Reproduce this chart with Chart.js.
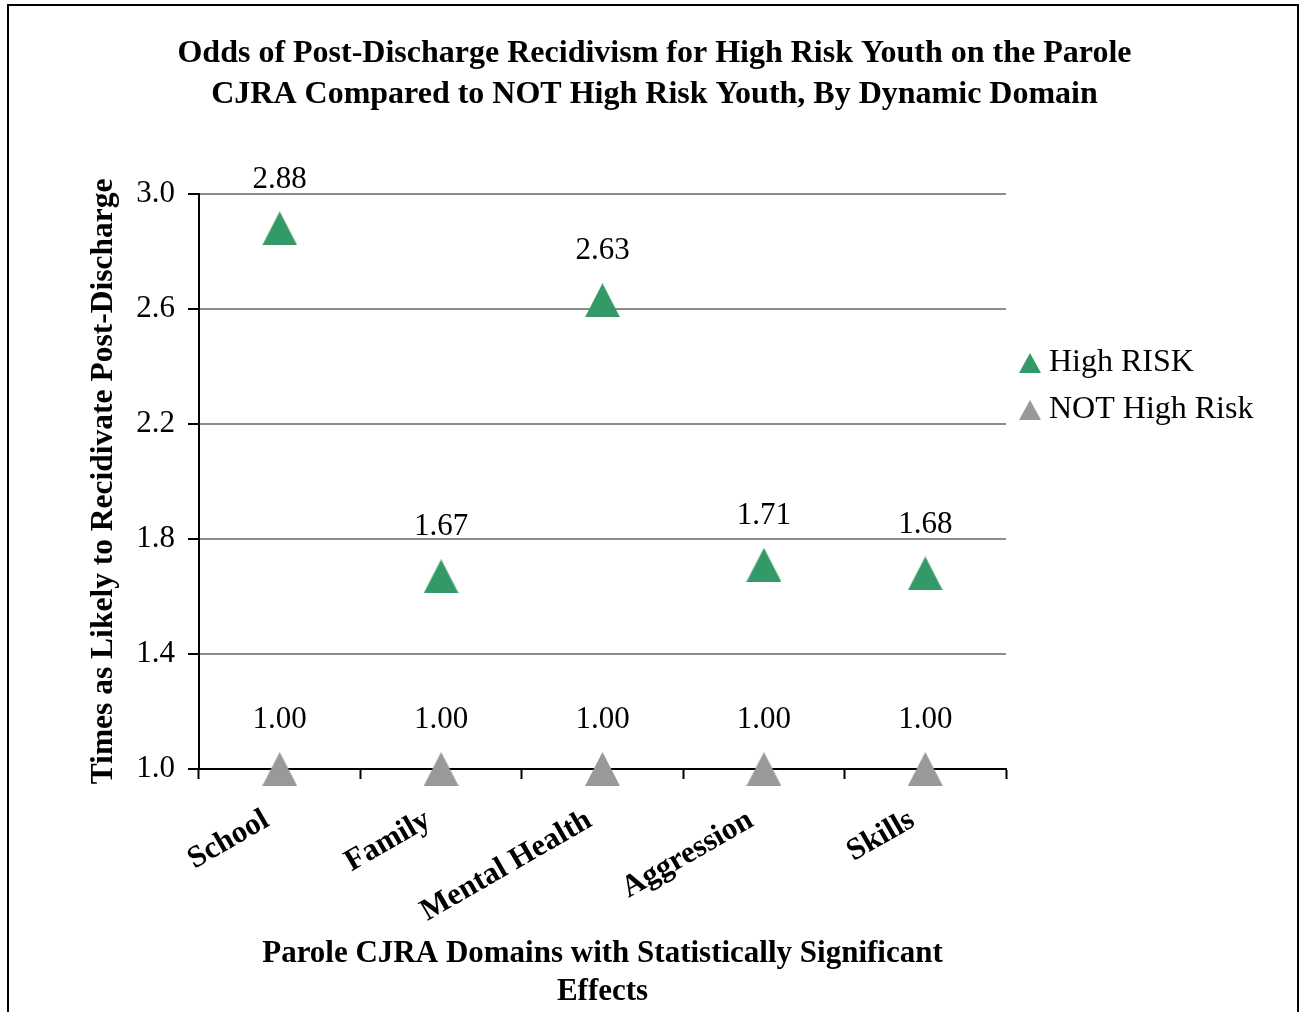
<!DOCTYPE html>
<html><head><meta charset="utf-8">
<script src="https://cdn.jsdelivr.net/npm/chart.js@4/dist/chart.umd.min.js"></script>
<style>html,body{margin:0;padding:0;background:#fff;} canvas{display:block;}</style>
</head><body>
<canvas id="c" width="1299" height="1012"></canvas>
<script>
const categories = ['School', 'Family', 'Mental Health', 'Aggression', 'Skills'];
const highRisk = [2.88, 1.67, 2.63, 1.71, 1.68];
const notHighRisk = [1.00, 1.00, 1.00, 1.00, 1.00];
const seriesNames = ['High RISK', 'NOT High Risk'];
const yMin = 1.0, yMax = 3.0, yStep = 0.4;
const titleLines = ['Odds of Post-Discharge Recidivism for High Risk Youth on the Parole',
                    'CJRA Compared to NOT High Risk Youth, By Dynamic Domain'];
const xTitleLines = ['Parole CJRA Domains with Statistically Significant', 'Effects'];
const yTitle = 'Times as Likely to Recidivate Post-Discharge';

const FONT = "'Liberation Serif', 'Times New Roman', serif";
const GREEN = '#339966';
const GRAY = '#999999';

function triangleImage(w, h, color, leftPad) {
  const c = document.createElement('canvas');
  c.width = w + leftPad; c.height = h;
  const g = c.getContext('2d');
  g.fillStyle = color;
  g.beginPath();
  g.moveTo(leftPad + w / 2, 0);
  g.lineTo(leftPad + w, h);
  g.lineTo(leftPad, h);
  g.closePath();
  g.fill();
  return c;
}
const markGreen = triangleImage(35, 34, GREEN, 0);
const markGray = triangleImage(35, 34, GRAY, 0);
const legendGreen = triangleImage(22, 20, GREEN, 6);
const legendGray = triangleImage(22, 20, GRAY, 6);

const framePlugin = {
  id: 'frame',
  beforeDraw(chart) {
    const ctx = chart.ctx;
    ctx.save();
    ctx.fillStyle = '#fff';
    ctx.fillRect(0, 0, chart.width, chart.height);
    ctx.strokeStyle = '#000';
    ctx.lineWidth = 2;
    ctx.strokeRect(8, 5, 1290, 1100);
    ctx.restore();
  }
};

const valueLabels = {
  id: 'valueLabels',
  afterDatasetsDraw(chart) {
    const ctx = chart.ctx;
    ctx.save();
    ctx.font = '31px ' + FONT;
    ctx.fillStyle = '#000';
    ctx.textAlign = 'center';
    ctx.textBaseline = 'middle';
    chart.data.datasets.forEach((ds, i) => {
      const meta = chart.getDatasetMeta(i);
      meta.data.forEach((pt, j) => {
        ctx.fillText(Number(ds.data[j]).toFixed(2), pt.x, pt.y - 49);
      });
    });
    ctx.restore();
  }
};

const legendWidth = {
  id: 'legendWidth',
  afterInit(chart) {
    const lg = chart.legend;
    if (lg && !lg._wrapped) {
      const orig = lg.fit.bind(lg);
      lg.fit = function () { orig(); this.width = 293; };
      lg._wrapped = true;
    }
  }
};

const legendMarks = [legendGreen, legendGray];

new Chart(document.getElementById('c'), {
  type: 'line',
  data: {
    labels: categories,
    datasets: [
      { label: seriesNames[0], data: highRisk, showLine: false, pointStyle: markGreen,
        pointRadius: 18, pointHoverRadius: 18, backgroundColor: GREEN, borderColor: GREEN,
        pointBorderWidth: 0, clip: false },
      { label: seriesNames[1], data: notHighRisk, showLine: false, pointStyle: markGray,
        pointRadius: 18, pointHoverRadius: 18, backgroundColor: GRAY, borderColor: GRAY,
        pointBorderWidth: 0, clip: false }
    ]
  },
  options: {
    responsive: false,
    animation: false,
    devicePixelRatio: 1,
    layout: { padding: { left: 10, top: 0, right: 0, bottom: 0 } },
    plugins: {
      tooltip: { enabled: false },
      title: {
        display: true, text: titleLines, color: '#000',
        font: { family: FONT, size: 32, weight: 'bold', lineHeight: 1.28 },
        padding: { top: 33, bottom: 79 }
      },
      legend: {
        position: 'right', align: 'start',
        title: { display: true, text: ' ', font: { size: 10, lineHeight: 1 }, padding: { top: 322, bottom: 0 } },
        labels: {
          usePointStyle: true, boxWidth: 12, boxHeight: 20, padding: 15, color: '#000',
          font: { family: FONT, size: 32 },
          generateLabels(chart) {
            const items = Chart.defaults.plugins.legend.labels.generateLabels(chart);
            items.forEach((it, i) => { it.pointStyle = legendMarks[i]; });
            return items;
          }
        }
      }
    },
    scales: {
      x: {
        type: 'category',
        offset: true,
        afterFit(s) { s.height = 243; },
        grid: { display: true, drawOnChartArea: false, drawTicks: true, tickLength: 10,
                tickColor: '#000', tickWidth: 2, offset: true, z: -1 },
        border: { display: true, color: '#000', width: 2 },
        ticks: { color: '#000', font: { family: FONT, size: 31, weight: 'bold' },
                 minRotation: 30, maxRotation: 30, padding: 23, labelOffset: -13 },
        title: { display: true, text: xTitleLines, color: '#000',
                 font: { family: FONT, size: 31, weight: 'bold', lineHeight: 1.226 },
                 padding: { top: 0, bottom: 1 } }
      },
      y: {
        min: yMin, max: yMax,
        afterFit(s) { s.width = 189; },
        grid: { color: '#8c8c8c', lineWidth: 2, drawTicks: true, tickLength: 11,
                tickColor: '#000', tickWidth: 2, z: -1 },
        border: { display: true, color: '#000', width: 2 },
        ticks: { stepSize: yStep, color: '#000', padding: 13,
                 font: { family: FONT, size: 31 },
                 callback: (v) => Number(v).toFixed(1) },
        title: { display: true, text: yTitle, color: '#000',
                 font: { family: FONT, size: 31.5, weight: 'bold', lineHeight: 1.2 },
                 padding: { top: 75, bottom: 0 } }
      }
    }
  },
  plugins: [framePlugin, valueLabels, legendWidth]
});
</script>
</body></html>
